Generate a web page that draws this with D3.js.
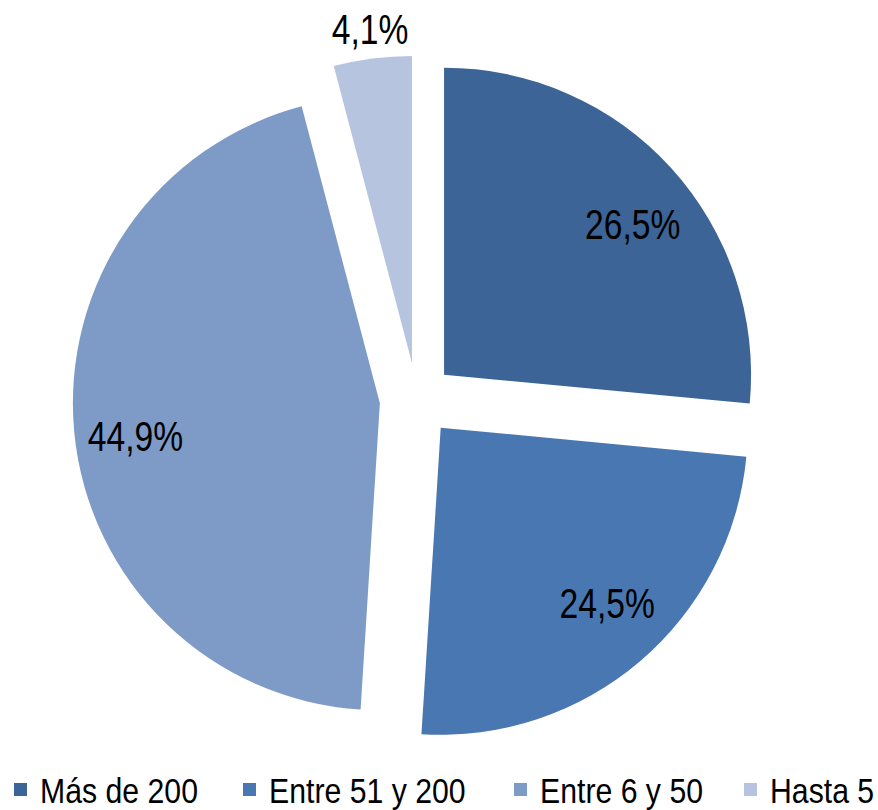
<!DOCTYPE html>
<html>
<head>
<meta charset="utf-8">
<script src="https://cdn.jsdelivr.net/npm/d3@7"></script>
<style>
  body { margin: 0; background: #fff; }
  svg { display: block; }
  text { font-family: "Liberation Sans Narrow", "Arial Narrow", "Liberation Sans", Arial, sans-serif; fill: #000; }
</style>
</head>
<body>
<div id="chart"></div>
<script>
// pie data, clockwise from 12 o'clock
let categories = ["Más de 200", "Entre 51 y 200", "Entre 6 y 50", "Hasta 5"];
let values = [26.5, 24.5, 44.9, 4.1];
let labels = ["26,5%", "24,5%", "44,9%", "4,1%"];
let colors = ["#3c6496", "#4877b1", "#7e9bc7", "#b6c4df"];
let outsideLabel = [false, false, false, true];

let width = 878, height = 810;
let cx = 416.7, cy = 399.6;
let radius = 307;
let explode = 37;
let narrow = 0.8; // no narrow font installed, squeeze the regular one
// small label nudges so they sit where the original puts them
let labelNudge = [[7, 11], [7, -15], [0, 5], [1, -7]];

let svg = d3.select("#chart").append("svg")
  .attr("width", width)
  .attr("height", height);

let pie = d3.pie().sort(null).value(d => d.value);
let arcs = pie(values.map((v, i) => ({ value: v, i: i })));

let arc = d3.arc().innerRadius(0).outerRadius(radius);
let labelArc = d3.arc().innerRadius(radius * 0.8).outerRadius(radius * 0.8);
let outerLabelArc = d3.arc().innerRadius(radius + 27).outerRadius(radius + 27);

// offset of a slice along its bisector
function shift(d) {
  let a = (d.startAngle + d.endAngle) / 2;
  return [explode * Math.sin(a), -explode * Math.cos(a)];
}

let g = svg.append("g").attr("transform", "translate(" + cx + "," + cy + ")");

let slices = g.selectAll("g.slice")
  .data(arcs)
  .enter()
  .append("g")
  .attr("class", "slice")
  .attr("transform", d => "translate(" + shift(d) + ")");

slices.append("path")
  .attr("d", arc)
  .attr("fill", d => colors[d.data.i]);

slices.append("text")
  .attr("transform", d => {
    let p = outsideLabel[d.data.i] ? outerLabelArc.centroid(d) : labelArc.centroid(d);
    let n = labelNudge[d.data.i];
    return "translate(" + (p[0] + n[0]) + "," + (p[1] + n[1]) + ") scale(" + narrow + ",1)";
  })
  .attr("text-anchor", "middle")
  .attr("dy", "0.45em")
  .style("font-size", "42px")
  .text(d => labels[d.data.i]);

// legend along the bottom
let legendX = [14, 243, 514, 744];
let legend = svg.append("g").attr("class", "legend")
  .selectAll("g")
  .data(categories)
  .enter()
  .append("g")
  .attr("transform", (d, i) => "translate(" + legendX[i] + ",803)");

legend.append("rect")
  .attr("x", 0)
  .attr("y", -20)
  .attr("width", 13)
  .attr("height", 13)
  .attr("fill", (d, i) => colors[i]);

legend.append("text")
  .attr("transform", "translate(26,0) scale(0.84,1)")
  .style("font-size", "36px")
  .text(d => d);
</script>
</body>
</html>
